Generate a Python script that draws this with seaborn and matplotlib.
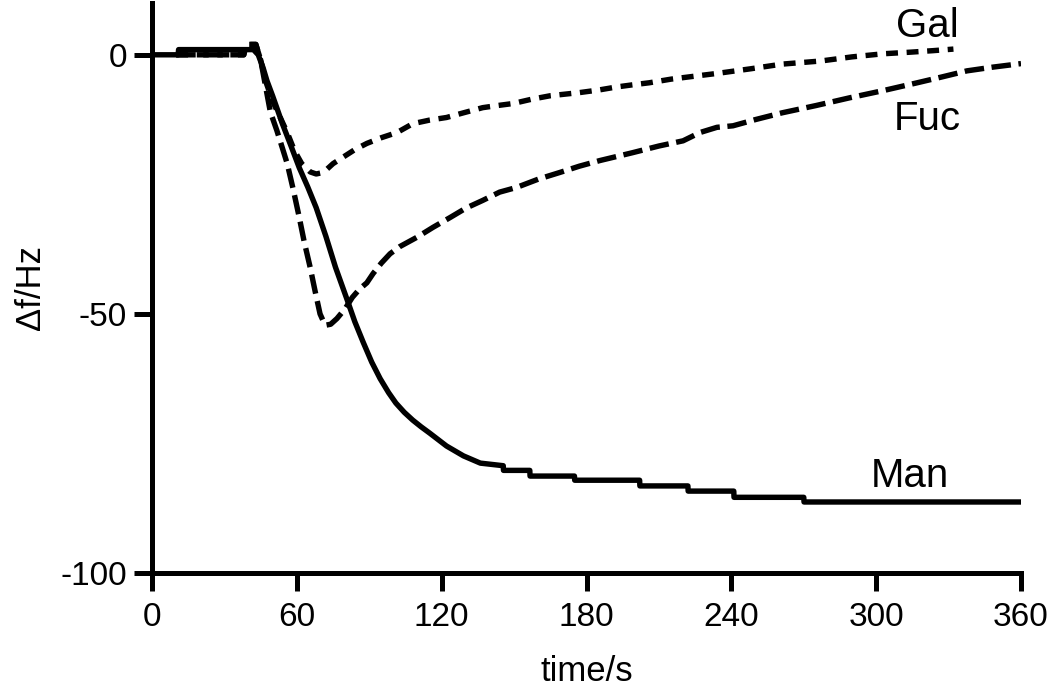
import pandas as pd
import matplotlib
matplotlib.use("Agg")
import matplotlib.pyplot as plt
import seaborn as sns

# --- Data ---
man_t = [0, 10.8, 11, 42, 44, 46, 47.6, 50, 54, 57.5, 61, 64.5, 68, 72, 76, 81, 84,
         87.5, 91, 94.5, 98, 101, 104.5, 108, 111.5, 115, 122, 129, 136, 145.5, 145.6,
         156.5, 156.6, 175, 175.1, 202, 202.1, 222, 222.1, 241, 241.1, 270, 270.1, 360]
man_f = [0, 0, 1, 1, 0, -2.5, -5, -8, -13.3, -17.5, -21.8, -25.5, -29.5, -35, -41, -47.5, -51.5,
         -55.5, -59.3, -62.5, -65.2, -67.2, -69.0, -70.5, -71.8, -73, -75.5, -77.4, -78.8, -79.3, -80.2,
         -80.2, -81.3, -81.3, -82.1, -82.1, -83.2, -83.2, -84.2, -84.2, -85.4, -85.4, -86.3, -86.3]

gal_t = [10, 38, 39, 43, 45, 47, 50, 53, 56, 59, 62, 65.5, 68, 71, 75, 79, 84, 89, 95,
         101.5, 108, 115, 122, 129, 137, 143, 149.6, 157, 165, 177, 185, 192.6, 199, 206,
         215, 227, 234, 248, 261, 277, 290, 303, 314, 323.6, 332]
gal_f = [0, 0, 2, 2, -1, -5, -9, -12, -15, -18.5, -21, -22.6, -23, -22.7, -21, -19.8, -18.3,
         -17.1, -16, -15, -13.3, -12.6, -12.1, -11.2, -10.2, -9.8, -9.4, -8.6, -7.9, -7.3, -6.8,
         -6.2, -5.8, -5.4, -4.7, -4.0, -3.6, -2.7, -1.8, -1.2, -0.4, 0.2, 0.5, 0.8, 1.1]

fuc_t = [10, 38, 39, 43, 45, 47, 49, 51.7, 54, 56, 58.5, 61, 63, 65.5, 67.5, 69.6, 71.7, 74,
         76.6, 80, 83, 86, 89, 91.6, 95, 98.6, 102.7, 109.8, 116.4, 123.5, 130, 137, 144, 151,
         160, 169, 177, 185.6, 199, 210, 220, 227, 234, 240.7, 250, 261, 275, 289, 303, 317,
         327, 337.6, 348, 360]
fuc_f = [0, 0, 2, 2, -1, -6, -11, -14.6, -18, -21, -26, -31.4, -36, -41, -45.5, -50, -52.2, -52,
         -50.9, -49, -46.8, -45.2, -44, -42.2, -40.2, -38.4, -37, -35.2, -33.3, -31.4, -29.6, -28.1,
         -26.5, -25.6, -24, -22.7, -21.5, -20.4, -18.9, -17.6, -16.6, -15, -14, -13.7, -12.5,
         -11.2, -9.8, -8.3, -6.9, -5.4, -4.3, -3.1, -2.4, -1.7]

x_ticks = [0, 60, 120, 180, 240, 300, 360]
y_ticks = [-100, -50, 0]

df = pd.concat([
    pd.DataFrame({"t": man_t, "df": man_f, "sugar": "Man"}),
    pd.DataFrame({"t": gal_t, "df": gal_f, "sugar": "Gal"}),
    pd.DataFrame({"t": fuc_t, "df": fuc_f, "sugar": "Fuc"}),
], ignore_index=True)

# --- Plotting ---
sns.set_style("ticks")
plt.rcParams["font.family"] = ["Liberation Sans", "DejaVu Sans"]
plt.rcParams["axes.unicode_minus"] = False
plt.rcParams["text.color"] = "black"
plt.rcParams["axes.labelcolor"] = "black"
plt.rcParams["xtick.labelcolor"] = "black"
plt.rcParams["ytick.labelcolor"] = "black"

fig = plt.figure(figsize=(10.5, 6.92), dpi=100)
ax = fig.add_axes([0.1448, 0.172, 0.8276, 0.8237])

sns.lineplot(
    data=df, x="t", y="df", hue="sugar", style="sugar",
    palette={"Man": "black", "Gal": "black", "Fuc": "black"},
    dashes={"Man": "", "Gal": (2.2, 1.6), "Fuc": (3.6, 1.4)},
    estimator=None, sort=False, linewidth=3.9, legend=False, ax=ax,
)

ax.text(321, 3.5, "Gal", fontsize=29, ha="center", va="baseline", color="black")
ax.text(321, -14.6, "Fuc", fontsize=29, ha="center", va="baseline", color="black")
ax.text(314, -83.4, "Man", fontsize=29, ha="center", va="baseline", color="black")

ax.set_xlim(0, 360)
ax.set_ylim(-100, 10)
ax.set_xticks(x_ticks)
ax.set_yticks(y_ticks)
ax.set_xlabel("time/s", fontsize=25, labelpad=16)
ax.set_ylabel("Δf/Hz", fontsize=25, labelpad=10)
ax.tick_params(axis="both", length=13, width=3.6, labelsize=24, color="black")
ax.tick_params(axis="x", pad=8)
ax.tick_params(axis="y", pad=5)

sns.despine(ax=ax)
for side in ["left", "bottom"]:
    ax.spines[side].set_linewidth(3.6)
    ax.spines[side].set_color("black")

fig.savefig("out.png", dpi=100)
